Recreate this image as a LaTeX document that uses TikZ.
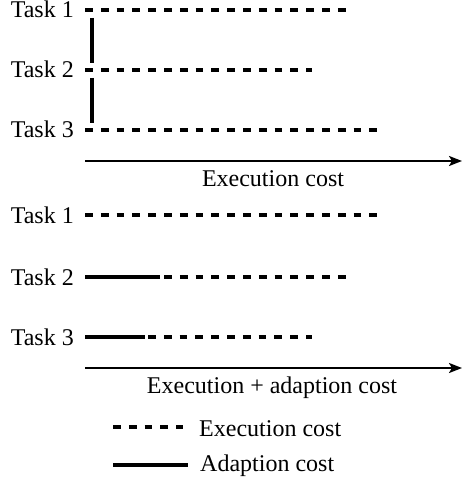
\documentclass[tikz,border=0pt]{standalone}
\usepackage{fontspec}
\setmainfont{Liberation Serif}
\usetikzlibrary{arrows.meta}
\begin{document}
\begin{tikzpicture}[x=1pt,y=-1pt,
  exec/.style={line width=3.3pt,dash pattern=on 7.8pt off 8pt},
  adapt/.style={line width=3.3pt},
  bar/.style={line width=3.3pt},
  axisline/.style={line width=2.2pt,-{Stealth[length=13pt,width=10pt,inset=3pt]}},
  lbl/.style={inner sep=0pt,font=\fontsize{24}{28}\selectfont}]
\useasboundingbox (0,0) rectangle (462,478);
% top section
\node[lbl,anchor=base east] (t1) at (74,18) {Task 1};
\node[lbl,anchor=base east] (t2) at (74,78) {Task 2};
\node[lbl,anchor=base east] (t3) at (74,138) {Task 3};
\coordinate (a1) at (85,10);  \coordinate (b1) at (348,10);
\coordinate (a2) at (85,70);  \coordinate (b2) at (312,70);
\coordinate (a3) at (85,130); \coordinate (b3) at (380,130);
\draw[exec] (a1) -- (b1);
\draw[exec] (a2) -- (b2);
\draw[exec] (a3) -- (b3);
\coordinate (v1) at (92,18); \coordinate (v2) at (92,63);
\coordinate (v3) at (92,78); \coordinate (v4) at (92,123);
\draw[bar] (v1) -- (v2);
\draw[bar] (v3) -- (v4);
\coordinate (x1) at (85,161); \coordinate (x2) at (462,161);
\draw[axisline] (x1) -- (x2);
\node[lbl,anchor=base] (xl1) at (273,186) {Execution cost};
% bottom section
\node[lbl,anchor=base east] (u1) at (74,223) {Task 1};
\node[lbl,anchor=base east] (u2) at (74,285) {Task 2};
\node[lbl,anchor=base east] (u3) at (74,345) {Task 3};
\coordinate (c1) at (85,215);  \coordinate (d1) at (380,215);
\coordinate (c2) at (85,277);  \coordinate (s2) at (160,277); \coordinate (d2) at (348,277);
\coordinate (c3) at (85,337);  \coordinate (s3) at (145,337); \coordinate (e3) at (148,337); \coordinate (d3) at (312,337);
\draw[exec] (c1) -- (d1);
\draw[exec] (c2) -- (d2);
\draw[adapt] (c2) -- (s2);
\draw[exec] (e3) -- (d3);
\draw[adapt] (c3) -- (s3);
\coordinate (y1) at (85,368); \coordinate (y2) at (462,368);
\draw[axisline] (y1) -- (y2);
\node[lbl,anchor=base] (xl2) at (272,393) {Execution + adaption cost};
% legend
\coordinate (l1) at (113,427); \coordinate (l2) at (183,427);
\coordinate (m1) at (113,465); \coordinate (m2) at (188,465);
\draw[exec] (l1) -- (l2);
\draw[adapt] (m1) -- (m2);
\node[lbl,anchor=base west] (leg1) at (199,436) {Execution cost};
\node[lbl,anchor=base west] (leg2) at (200,471) {Adaption cost};
\end{tikzpicture}
\end{document}
